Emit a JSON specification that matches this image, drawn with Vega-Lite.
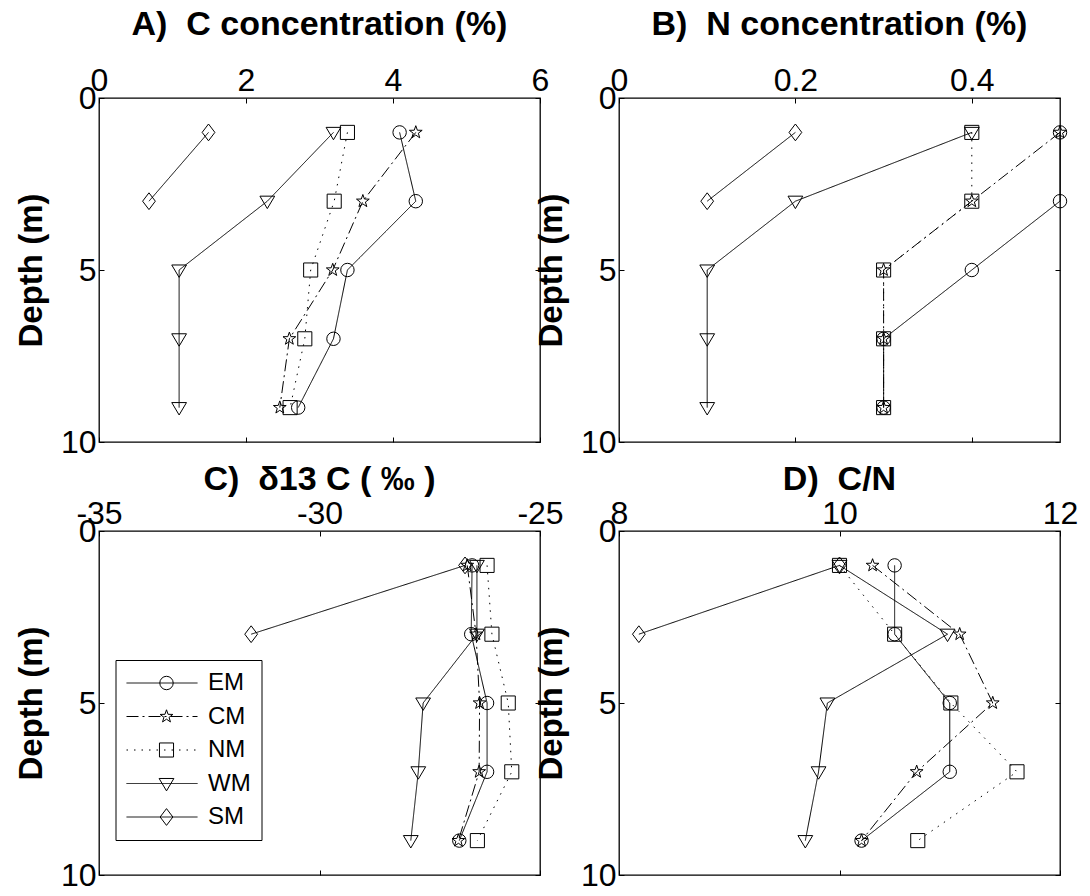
{
  "$schema": "https://vega.github.io/schema/vega-lite/v6.json",
  "background": "white",
  "padding": {"left": 14, "top": 7, "right": 10, "bottom": 4},
  "config": {
    "font": "Liberation Sans",
    "view": {"stroke": "black", "strokeWidth": 1.3},
    "axis": {"grid": false, "domain": false, "tickColor": "black", "labelColor": "black", "titleColor": "black", "labelFont": "Liberation Sans", "titleFont": "Liberation Sans"},
    "title": {"font": "Liberation Sans", "fontSize": 34, "fontWeight": "bold", "color": "black", "anchor": "middle"}
  },
  "datasets": {
    "profiles": [
      {"panel": "A", "series": "EM", "depth": 1, "value": 4.09},
      {"panel": "A", "series": "EM", "depth": 3, "value": 4.31},
      {"panel": "A", "series": "EM", "depth": 5, "value": 3.38},
      {"panel": "A", "series": "EM", "depth": 7, "value": 3.19},
      {"panel": "A", "series": "EM", "depth": 9, "value": 2.71},
      {"panel": "A", "series": "CM", "depth": 1, "value": 4.31},
      {"panel": "A", "series": "CM", "depth": 3, "value": 3.59},
      {"panel": "A", "series": "CM", "depth": 5, "value": 3.18},
      {"panel": "A", "series": "CM", "depth": 7, "value": 2.59},
      {"panel": "A", "series": "CM", "depth": 9, "value": 2.46},
      {"panel": "A", "series": "NM", "depth": 1, "value": 3.38},
      {"panel": "A", "series": "NM", "depth": 3, "value": 3.2},
      {"panel": "A", "series": "NM", "depth": 5, "value": 2.88},
      {"panel": "A", "series": "NM", "depth": 7, "value": 2.8},
      {"panel": "A", "series": "NM", "depth": 9, "value": 2.6},
      {"panel": "A", "series": "WM", "depth": 1, "value": 3.19},
      {"panel": "A", "series": "WM", "depth": 3, "value": 2.29},
      {"panel": "A", "series": "WM", "depth": 5, "value": 1.09},
      {"panel": "A", "series": "WM", "depth": 7, "value": 1.09},
      {"panel": "A", "series": "WM", "depth": 9, "value": 1.09},
      {"panel": "A", "series": "SM", "depth": 1, "value": 1.49},
      {"panel": "A", "series": "SM", "depth": 3, "value": 0.68},

      {"panel": "B", "series": "EM", "depth": 1, "value": 0.5},
      {"panel": "B", "series": "EM", "depth": 3, "value": 0.5},
      {"panel": "B", "series": "EM", "depth": 5, "value": 0.4},
      {"panel": "B", "series": "EM", "depth": 7, "value": 0.3},
      {"panel": "B", "series": "EM", "depth": 9, "value": 0.3},
      {"panel": "B", "series": "CM", "depth": 1, "value": 0.5},
      {"panel": "B", "series": "CM", "depth": 3, "value": 0.4},
      {"panel": "B", "series": "CM", "depth": 5, "value": 0.3},
      {"panel": "B", "series": "CM", "depth": 7, "value": 0.3},
      {"panel": "B", "series": "CM", "depth": 9, "value": 0.3},
      {"panel": "B", "series": "NM", "depth": 1, "value": 0.4},
      {"panel": "B", "series": "NM", "depth": 3, "value": 0.4},
      {"panel": "B", "series": "NM", "depth": 5, "value": 0.3},
      {"panel": "B", "series": "NM", "depth": 7, "value": 0.3},
      {"panel": "B", "series": "NM", "depth": 9, "value": 0.3},
      {"panel": "B", "series": "WM", "depth": 1, "value": 0.4},
      {"panel": "B", "series": "WM", "depth": 3, "value": 0.2},
      {"panel": "B", "series": "WM", "depth": 5, "value": 0.1},
      {"panel": "B", "series": "WM", "depth": 7, "value": 0.1},
      {"panel": "B", "series": "WM", "depth": 9, "value": 0.1},
      {"panel": "B", "series": "SM", "depth": 1, "value": 0.2},
      {"panel": "B", "series": "SM", "depth": 3, "value": 0.1},

      {"panel": "C", "series": "EM", "depth": 1, "value": -26.54},
      {"panel": "C", "series": "EM", "depth": 3, "value": -26.56},
      {"panel": "C", "series": "EM", "depth": 5, "value": -26.2},
      {"panel": "C", "series": "EM", "depth": 7, "value": -26.2},
      {"panel": "C", "series": "EM", "depth": 9, "value": -26.83},
      {"panel": "C", "series": "CM", "depth": 1, "value": -26.65},
      {"panel": "C", "series": "CM", "depth": 3, "value": -26.45},
      {"panel": "C", "series": "CM", "depth": 5, "value": -26.37},
      {"panel": "C", "series": "CM", "depth": 7, "value": -26.38},
      {"panel": "C", "series": "CM", "depth": 9, "value": -26.85},
      {"panel": "C", "series": "NM", "depth": 1, "value": -26.2},
      {"panel": "C", "series": "NM", "depth": 3, "value": -26.09},
      {"panel": "C", "series": "NM", "depth": 5, "value": -25.72},
      {"panel": "C", "series": "NM", "depth": 7, "value": -25.64},
      {"panel": "C", "series": "NM", "depth": 9, "value": -26.42},
      {"panel": "C", "series": "WM", "depth": 1, "value": -26.43},
      {"panel": "C", "series": "WM", "depth": 3, "value": -26.43},
      {"panel": "C", "series": "WM", "depth": 5, "value": -27.65},
      {"panel": "C", "series": "WM", "depth": 7, "value": -27.76},
      {"panel": "C", "series": "WM", "depth": 9, "value": -27.93},
      {"panel": "C", "series": "SM", "depth": 1, "value": -26.7},
      {"panel": "C", "series": "SM", "depth": 3, "value": -31.55},

      {"panel": "D", "series": "EM", "depth": 1, "value": 10.5},
      {"panel": "D", "series": "EM", "depth": 3, "value": 10.5},
      {"panel": "D", "series": "EM", "depth": 5, "value": 11.0},
      {"panel": "D", "series": "EM", "depth": 7, "value": 11.0},
      {"panel": "D", "series": "EM", "depth": 9, "value": 10.2},
      {"panel": "D", "series": "CM", "depth": 1, "value": 10.3},
      {"panel": "D", "series": "CM", "depth": 3, "value": 11.09},
      {"panel": "D", "series": "CM", "depth": 5, "value": 11.39},
      {"panel": "D", "series": "CM", "depth": 7, "value": 10.7},
      {"panel": "D", "series": "CM", "depth": 9, "value": 10.2},
      {"panel": "D", "series": "NM", "depth": 1, "value": 10.0},
      {"panel": "D", "series": "NM", "depth": 3, "value": 10.5},
      {"panel": "D", "series": "NM", "depth": 5, "value": 11.01},
      {"panel": "D", "series": "NM", "depth": 7, "value": 11.61},
      {"panel": "D", "series": "NM", "depth": 9, "value": 10.71},
      {"panel": "D", "series": "WM", "depth": 1, "value": 10.0},
      {"panel": "D", "series": "WM", "depth": 3, "value": 10.98},
      {"panel": "D", "series": "WM", "depth": 5, "value": 9.89},
      {"panel": "D", "series": "WM", "depth": 7, "value": 9.81},
      {"panel": "D", "series": "WM", "depth": 9, "value": 9.69},
      {"panel": "D", "series": "SM", "depth": 1, "value": 10.0},
      {"panel": "D", "series": "SM", "depth": 3, "value": 8.18}
    ]
  },
  "columns": 2,
  "bounds": "flush",
  "spacing": {"row": 89, "column": 79},
  "resolve": {"scale": {"shape": "independent", "strokeDash": "independent"}},
  "concat": [
    {
      "title": {"text": "A)\u00a0\u00a0C concentration (%)", "offset": 22},
      "width": 441, "height": 344,
      "data": {"name": "profiles"},
      "transform": [{"filter": "datum.panel === 'A'"}],
      "layer": [
        {
          "mark": {"type": "line", "color": "black", "strokeWidth": 1},
          "encoding": {
            "x": {"field": "value", "type": "quantitative", "scale": {"domain": [0, 6], "nice": false, "zero": false},
                  "axis": {"orient": "top", "title": null, "values": [0, 2, 4, 6], "tickSize": -5, "labelPadding": 6, "labelFontSize": 32, "labelFlush": false, "labelOverlap": false, "labelExpr": "datum.value + ''"}},
            "y": {"field": "depth", "type": "quantitative", "scale": {"domain": [0, 10], "reverse": true, "nice": false, "zero": false},
                  "axis": {"orient": "left", "title": "Depth (m)", "titleFontSize": 33, "titleFontWeight": "bold", "titlePadding": 12, "values": [0, 5, 10], "tickSize": -5, "labelPadding": 8, "labelFontSize": 32, "labelFlush": false, "labelOverlap": false, "labelExpr": "datum.value + ''"}},
            "strokeDash": {"field": "series", "type": "nominal", "sort": ["EM", "CM", "NM", "WM", "SM"], "scale": {"range": [[1, 0], [12, 4, 2, 4], [1.5, 6], [1, 0], [1, 0]]}, "legend": null},
            "order": {"field": "depth", "type": "quantitative"}
          }
        },
        {
          "mark": {"type": "point", "filled": false, "color": "black", "strokeWidth": 1, "size": 180, "opacity": 1},
          "encoding": {
            "x": {"field": "value", "type": "quantitative", "axis": {"orient": "bottom", "title": null, "values": [0, 2, 4, 6], "tickSize": -5, "labels": false}},
            "y": {"field": "depth", "type": "quantitative", "axis": {"orient": "right", "title": null, "values": [0, 5, 10], "tickSize": -5, "labels": false}},
            "shape": {"field": "series", "type": "nominal", "scale": {"domain": ["EM", "CM", "NM", "WM", "SM"], "range": ["circle", "M0,-1L0.235,-0.324L0.951,-0.309L0.38,0.124L0.588,0.809L0,0.4L-0.588,0.809L-0.38,0.124L-0.951,-0.309L-0.235,-0.324Z", "M-1.05,-1.05L1.05,-1.05L1.05,1.05L-1.05,1.05Z", "M-1.1,-0.75L1.1,-0.75L0,1.1Z", "M0,-1.25L0.95,0L0,1.25L-0.95,0Z"]}, "legend": null}
          }
        }
      ]
    },
    {
      "title": {"text": "B)\u00a0\u00a0N concentration (%)", "offset": 22},
      "width": 441, "height": 344,
      "data": {"name": "profiles"},
      "transform": [{"filter": "datum.panel === 'B'"}],
      "layer": [
        {
          "mark": {"type": "line", "color": "black", "strokeWidth": 1},
          "encoding": {
            "x": {"field": "value", "type": "quantitative", "scale": {"domain": [0, 0.5], "nice": false, "zero": false},
                  "axis": {"orient": "top", "title": null, "values": [0, 0.2, 0.4], "tickSize": -5, "labelPadding": 6, "labelFontSize": 32, "labelFlush": false, "labelOverlap": false, "labelExpr": "datum.value + ''"}},
            "y": {"field": "depth", "type": "quantitative", "scale": {"domain": [0, 10], "reverse": true, "nice": false, "zero": false},
                  "axis": {"orient": "left", "title": "Depth (m)", "titleFontSize": 33, "titleFontWeight": "bold", "titlePadding": 12, "values": [0, 5, 10], "tickSize": -5, "labelPadding": 8, "labelFontSize": 32, "labelFlush": false, "labelOverlap": false, "labelExpr": "datum.value + ''"}},
            "strokeDash": {"field": "series", "type": "nominal", "sort": ["EM", "CM", "NM", "WM", "SM"], "scale": {"range": [[1, 0], [12, 4, 2, 4], [1.5, 6], [1, 0], [1, 0]]}, "legend": null},
            "order": {"field": "depth", "type": "quantitative"}
          }
        },
        {
          "mark": {"type": "point", "filled": false, "color": "black", "strokeWidth": 1, "size": 180, "opacity": 1},
          "encoding": {
            "x": {"field": "value", "type": "quantitative", "axis": {"orient": "bottom", "title": null, "values": [0, 0.2, 0.4], "tickSize": -5, "labels": false}},
            "y": {"field": "depth", "type": "quantitative", "axis": {"orient": "right", "title": null, "values": [0, 5, 10], "tickSize": -5, "labels": false}},
            "shape": {"field": "series", "type": "nominal", "scale": {"domain": ["EM", "CM", "NM", "WM", "SM"], "range": ["circle", "M0,-1L0.235,-0.324L0.951,-0.309L0.38,0.124L0.588,0.809L0,0.4L-0.588,0.809L-0.38,0.124L-0.951,-0.309L-0.235,-0.324Z", "M-1.05,-1.05L1.05,-1.05L1.05,1.05L-1.05,1.05Z", "M-1.1,-0.75L1.1,-0.75L0,1.1Z", "M0,-1.25L0.95,0L0,1.25L-0.95,0Z"]}, "legend": null}
          }
        }
      ]
    },
    {
      "title": {"text": "C)\u00a0\u00a0\u03b413 C ( \u2030 )", "offset": 0},
      "width": 441, "height": 344,
      "data": {"name": "profiles"},
      "transform": [{"filter": "datum.panel === 'C'"}],
      "layer": [
        {
          "mark": {"type": "line", "color": "black", "strokeWidth": 1},
          "encoding": {
            "x": {"field": "value", "type": "quantitative", "scale": {"domain": [-35, -25], "nice": false, "zero": false},
                  "axis": {"orient": "top", "title": null, "values": [-35, -30, -25], "tickSize": -5, "labelPadding": 6, "labelFontSize": 32, "labelFlush": false, "labelOverlap": false, "labelExpr": "datum.value + ''"}},
            "y": {"field": "depth", "type": "quantitative", "scale": {"domain": [0, 10], "reverse": true, "nice": false, "zero": false},
                  "axis": {"orient": "left", "title": "Depth (m)", "titleFontSize": 33, "titleFontWeight": "bold", "titlePadding": 12, "values": [0, 5, 10], "tickSize": -5, "labelPadding": 8, "labelFontSize": 32, "labelFlush": false, "labelOverlap": false, "labelExpr": "datum.value + ''"}},
            "strokeDash": {"field": "series", "type": "nominal", "sort": ["EM", "CM", "NM", "WM", "SM"], "scale": {"range": [[1, 0], [12, 4, 2, 4], [1.5, 6], [1, 0], [1, 0]]},
                           "legend": {"orient": "none", "legendX": 16.5, "legendY": 129, "title": null, "symbolType": "stroke", "symbolSize": 5041, "symbolStrokeColor": "black", "symbolStrokeWidth": 1, "labelFontSize": 24, "labelFont": "Liberation Sans", "labelColor": "black", "labelOffset": 10, "labelExpr": "datum.label + '\u00a0'", "clipHeight": 25, "rowPadding": 8.5, "padding": 10.5, "strokeColor": "black", "fillColor": "transparent"}},
            "order": {"field": "depth", "type": "quantitative"}
          }
        },
        {
          "mark": {"type": "point", "filled": false, "color": "black", "strokeWidth": 1, "size": 180, "opacity": 1},
          "encoding": {
            "x": {"field": "value", "type": "quantitative", "axis": {"orient": "bottom", "title": null, "values": [-35, -30, -25], "tickSize": -5, "labels": false}},
            "y": {"field": "depth", "type": "quantitative", "axis": {"orient": "right", "title": null, "values": [0, 5, 10], "tickSize": -5, "labels": false}},
            "shape": {"field": "series", "type": "nominal", "scale": {"domain": ["EM", "CM", "NM", "WM", "SM"], "range": ["circle", "M0,-1L0.235,-0.324L0.951,-0.309L0.38,0.124L0.588,0.809L0,0.4L-0.588,0.809L-0.38,0.124L-0.951,-0.309L-0.235,-0.324Z", "M-1.05,-1.05L1.05,-1.05L1.05,1.05L-1.05,1.05Z", "M-1.1,-0.75L1.1,-0.75L0,1.1Z", "M0,-1.25L0.95,0L0,1.25L-0.95,0Z"]},
                      "legend": {"orient": "none", "legendX": 45, "legendY": 129, "title": null, "symbolSize": 180, "symbolStrokeColor": "black", "symbolFillColor": "transparent", "symbolStrokeWidth": 1, "labelFontSize": 24, "labelExpr": "''", "clipHeight": 25, "rowPadding": 8.5, "padding": 10.5, "strokeColor": "transparent", "fillColor": "transparent"}}
          }
        }
      ]
    },
    {
      "title": {"text": "D)\u00a0\u00a0C/N", "offset": 0},
      "width": 441, "height": 344,
      "data": {"name": "profiles"},
      "transform": [{"filter": "datum.panel === 'D'"}],
      "layer": [
        {
          "mark": {"type": "line", "color": "black", "strokeWidth": 1},
          "encoding": {
            "x": {"field": "value", "type": "quantitative", "scale": {"domain": [8, 12], "nice": false, "zero": false},
                  "axis": {"orient": "top", "title": null, "values": [8, 10, 12], "tickSize": -5, "labelPadding": 6, "labelFontSize": 32, "labelFlush": false, "labelOverlap": false, "labelExpr": "datum.value + ''"}},
            "y": {"field": "depth", "type": "quantitative", "scale": {"domain": [0, 10], "reverse": true, "nice": false, "zero": false},
                  "axis": {"orient": "left", "title": "Depth (m)", "titleFontSize": 33, "titleFontWeight": "bold", "titlePadding": 12, "values": [0, 5, 10], "tickSize": -5, "labelPadding": 8, "labelFontSize": 32, "labelFlush": false, "labelOverlap": false, "labelExpr": "datum.value + ''"}},
            "strokeDash": {"field": "series", "type": "nominal", "sort": ["EM", "CM", "NM", "WM", "SM"], "scale": {"range": [[1, 0], [12, 4, 2, 4], [1.5, 6], [1, 0], [1, 0]]}, "legend": null},
            "order": {"field": "depth", "type": "quantitative"}
          }
        },
        {
          "mark": {"type": "point", "filled": false, "color": "black", "strokeWidth": 1, "size": 180, "opacity": 1},
          "encoding": {
            "x": {"field": "value", "type": "quantitative", "axis": {"orient": "bottom", "title": null, "values": [8, 10, 12], "tickSize": -5, "labels": false}},
            "y": {"field": "depth", "type": "quantitative", "axis": {"orient": "right", "title": null, "values": [0, 5, 10], "tickSize": -5, "labels": false}},
            "shape": {"field": "series", "type": "nominal", "scale": {"domain": ["EM", "CM", "NM", "WM", "SM"], "range": ["circle", "M0,-1L0.235,-0.324L0.951,-0.309L0.38,0.124L0.588,0.809L0,0.4L-0.588,0.809L-0.38,0.124L-0.951,-0.309L-0.235,-0.324Z", "M-1.05,-1.05L1.05,-1.05L1.05,1.05L-1.05,1.05Z", "M-1.1,-0.75L1.1,-0.75L0,1.1Z", "M0,-1.25L0.95,0L0,1.25L-0.95,0Z"]}, "legend": null}
          }
        }
      ]
    }
  ]
}
